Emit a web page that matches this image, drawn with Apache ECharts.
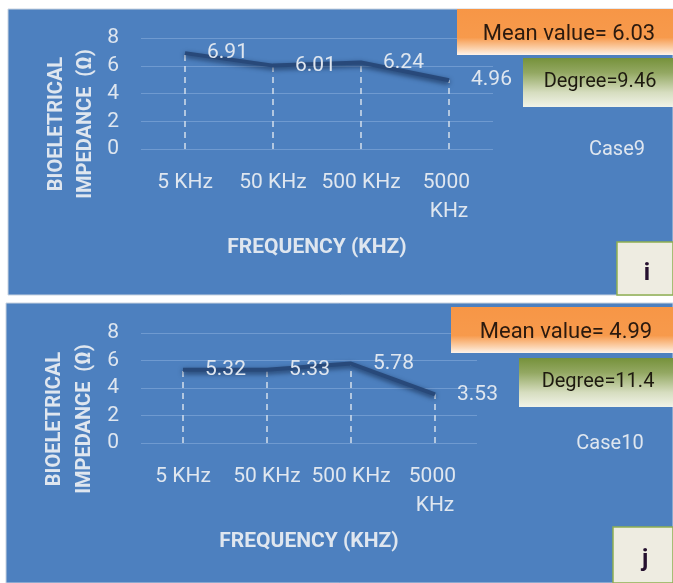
<!DOCTYPE html>
<html>
<head>
<meta charset="utf-8">
<script src="https://cdn.jsdelivr.net/npm/echarts@6/dist/echarts.min.js"></script>
<style>
  html, body { margin: 0; padding: 0; background: #ffffff; }
  #chart { width: 673px; height: 583px; }
</style>
</head>
<body>
<div id="chart"></div>
<script>
// Bioelectrical impedance per measuring frequency, two cases
const categories = ['5 KHz', '50 KHz', '500 KHz', '5000 KHz'];
const case9Values = [6.91, 6.01, 6.24, 4.96];
const case10Values = [5.32, 5.33, 5.78, 3.53];
const yTickMin = 0;
const yTickMax = 8;
const yTickStep = 2;
const caseNames = ['Case9', 'Case10'];
const meanValues = ['6.03', '4.99'];
const degreeValues = ['9.46', '11.4'];
const panelLetters = ['i', 'j'];
const yTitleLines = ['BIOELETRICAL', 'IMPEDANCE  (\u03A9)'];
const xTitle = 'FREQUENCY (KHZ)';

const FONT = 'Roboto, "DejaVu Sans", sans-serif';
const PANEL_BG = '#4d80bf';
const TEXT_LIGHT = '#dfe6ef';
const GRID_LINE = '#6f9ad0';

// Panel frames: background box, plot area and annotation boxes
const panels = [
  { x: 8, y: 9, w: 665, h: 286, grid: { left: 141, top: 38, width: 352, height: 111 },
    yTitleX: [57, 86], yTitleY: 124,
    mean: { x: 457, y: 9, w: 216, h: 46 }, degree: { x: 523, y: 58, w: 150, h: 49 },
    caseText: { x: 617, y: 150 }, letter: { x: 617, y: 242, w: 56, h: 53 } },
  { x: 6, y: 303, w: 667, h: 280, grid: { left: 141, top: 333, width: 336, height: 110 },
    yTitleX: [55, 85], yTitleY: 419,
    mean: { x: 451, y: 307, w: 222, h: 46 }, degree: { x: 519, y: 358, w: 154, h: 49 },
    caseText: { x: 610, y: 444 }, letter: { x: 613, y: 527, w: 60, h: 56 } }
];
const seriesValues = [case9Values, case10Values];

const graphics = [];
panels.forEach(function (p, k) {
  graphics.push({
    type: 'rect', z: -10, silent: true,
    shape: { x: p.x, y: p.y, width: p.w, height: p.h },
    style: { fill: PANEL_BG, stroke: '#c9d3e0', lineWidth: 1 }
  });
  // rotated two-line y axis title
  yTitleLines.forEach(function (line, li) {
    graphics.push({
      type: 'text', z: 5, silent: true,
      x: p.yTitleX[li], y: p.yTitleY, rotation: Math.PI / 2,
      style: { text: line, font: 'bold 20px ' + FONT, fill: TEXT_LIGHT,
               align: 'center', verticalAlign: 'middle' }
    });
  });
  // mean value box (orange gradient)
  graphics.push({
    type: 'rect', z: 5, silent: true,
    shape: { x: p.mean.x, y: p.mean.y, width: p.mean.w, height: p.mean.h },
    style: {
      fill: new echarts.graphic.LinearGradient(0, 0, 0, 1, [
        { offset: 0, color: '#f79646' }, { offset: 0.62, color: '#f79a4c' },
        { offset: 0.85, color: '#fbcfa8' }, { offset: 1, color: '#fdf3ea' }
      ])
    }
  });
  graphics.push({
    type: 'text', z: 6, silent: true,
    x: p.mean.x + p.mean.w / 2 + 4, y: p.mean.y + 25,
    style: { text: 'Mean value= ' + meanValues[k], font: '22px ' + FONT, fill: '#2b1a0f',
             align: 'center', verticalAlign: 'middle' }
  });
  // degree box (green gradient)
  graphics.push({
    type: 'rect', z: 5, silent: true,
    shape: { x: p.degree.x, y: p.degree.y, width: p.degree.w, height: p.degree.h },
    style: {
      fill: new echarts.graphic.LinearGradient(0, 0, 0, 1, [
        { offset: 0, color: '#76923b' }, { offset: 0.3, color: '#93a862' },
        { offset: 0.7, color: '#d6ddbf' }, { offset: 1, color: '#f1f3e8' }
      ])
    }
  });
  graphics.push({
    type: 'text', z: 6, silent: true,
    x: p.degree.x + p.degree.w / 2 + 2, y: p.degree.y + 24,
    style: { text: 'Degree=' + degreeValues[k], font: '20px ' + FONT, fill: '#1e1a10',
             align: 'center', verticalAlign: 'middle' }
  });
  // case name
  graphics.push({
    type: 'text', z: 6, silent: true,
    x: p.caseText.x, y: p.caseText.y,
    style: { text: caseNames[k], font: '20px ' + FONT, fill: TEXT_LIGHT,
             align: 'center', verticalAlign: 'middle' }
  });
  // sub-figure letter box
  graphics.push({
    type: 'rect', z: 5, silent: true,
    shape: { x: p.letter.x, y: p.letter.y, width: p.letter.w, height: p.letter.h },
    style: { fill: '#eeece1', stroke: '#8fae52', lineWidth: 1.5 }
  });
  graphics.push({
    type: 'text', z: 6, silent: true,
    x: p.letter.x + p.letter.w / 2 + 2, y: p.letter.y + p.letter.h / 2 + 5,
    style: { text: panelLetters[k], font: 'bold 24px ' + FONT, fill: '#25102e',
             align: 'center', verticalAlign: 'middle' }
  });
});

const grids = panels.map(function (p) {
  return { left: p.grid.left, top: p.grid.top, width: p.grid.width, height: p.grid.height,
           containLabel: false };
});

const xAxes = panels.map(function (p, k) {
  return {
    type: 'category', gridIndex: k, data: categories, boundaryGap: true,
    name: xTitle, nameLocation: 'middle', nameGap: 88,
    nameTextStyle: { fontFamily: FONT, fontWeight: 'bold', fontSize: 21, color: TEXT_LIGHT },
    axisLine: { show: false }, axisTick: { show: false },
    axisLabel: { interval: 0, margin: 19, fontFamily: FONT, fontSize: 21, color: TEXT_LIGHT,
                 width: 80, overflow: 'break', lineHeight: 29 },
    splitLine: { show: false }
  };
});

const yAxes = panels.map(function (p, k) {
  return {
    type: 'value', gridIndex: k, min: yTickMin, max: yTickMax, interval: yTickStep,
    axisLine: { show: false }, axisTick: { show: false },
    axisLabel: { margin: 22, fontFamily: FONT, fontSize: 21, color: TEXT_LIGHT },
    splitLine: { show: true, lineStyle: { color: GRID_LINE, width: 1 } }
  };
});

const series = seriesValues.map(function (vals, k) {
  return {
    type: 'line', xAxisIndex: k, yAxisIndex: k, data: vals,
    symbol: 'circle', symbolSize: 2, showSymbol: true, z: 4,
    itemStyle: { color: 'rgba(0,0,0,0)', borderWidth: 0 },
    lineStyle: { color: '#28497a', width: 4, shadowColor: 'rgba(10,25,55,0.7)',
                 shadowBlur: 5, shadowOffsetY: 2 },
    label: {
      show: true, position: 'right', distance: 21,
      fontFamily: FONT, fontSize: 21, color: TEXT_LIGHT,
      formatter: function (d) { return d.value.toFixed(2); }
    },
    labelLayout: { hideOverlap: false },
    emphasis: { disabled: true },
    markLine: {
      silent: true, symbol: ['none', 'none'], z: 3,
      label: { show: false },
      lineStyle: { type: [6, 5], color: '#d4deeb', width: 1.5 },
      emphasis: { disabled: true },
      data: vals.map(function (v, i) {
        return [{ coord: [categories[i], 0] }, { coord: [categories[i], v] }];
      })
    }
  };
});

const chart = echarts.init(document.getElementById('chart'), null, { renderer: 'canvas' });
chart.setOption({
  backgroundColor: '#ffffff',
  animation: false,
  grid: grids,
  xAxis: xAxes,
  yAxis: yAxes,
  series: series,
  graphic: graphics
});
</script>
</body>
</html>
